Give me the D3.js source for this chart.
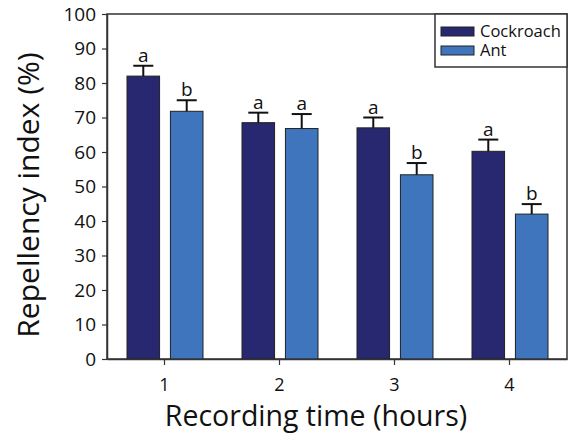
<!DOCTYPE html>
<html>
<head>
<meta charset="utf-8">
<script src="https://cdn.jsdelivr.net/npm/d3@7"></script>
<style>
  body { margin: 0; background: #fff; }
  text { font-family: "Open Sans", "Noto Sans", sans-serif; fill: #111; }
</style>
</head>
<body>
<div id="grafico"></div>
<script>
// Datos
const horas = ["1", "2", "3", "4"];
const series = ["Cockroach", "Ant"];
const cockroach = [82, 68.5, 67, 60.2];
const ant = [71.8, 66.8, 53.4, 42];
const cockroachErr = [3, 2.9, 3, 3.4];
const antErr = [3.2, 4.2, 3.4, 2.9];
const cockroachLetras = ["a", "a", "a", "a"];
const antLetras = ["b", "a", "b", "b"];
const yTicks = [0, 10, 20, 30, 40, 50, 60, 70, 80, 90, 100];
const colores = ["#27286f", "#3e75bd"];

const width = 569;
const height = 447;
const margin = { top: 14, right: 2, bottom: 88, left: 107 };

const svg = d3.select("#grafico")
    .append("svg")
    .attr("width", width)
    .attr("height", height);

// Escalas
const x0 = d3.scaleBand()
    .domain(horas)
    .range([margin.left, width - margin.right]);

const x1 = d3.scaleBand()
    .domain(series)
    .range([20, x0.bandwidth() - 19])
    .paddingInner(0.25);

const y = d3.scaleLinear()
    .domain([0, 100])
    .range([height - margin.bottom, margin.top]);

const color = d3.scaleOrdinal().domain(series).range(colores);

// Tabla para las barras
const datos = [];
horas.forEach((h, i) => {
    datos.push({ hora: h, serie: "Cockroach", valor: cockroach[i], err: cockroachErr[i], letra: cockroachLetras[i] });
    datos.push({ hora: h, serie: "Ant", valor: ant[i], err: antErr[i], letra: antLetras[i] });
});

// Marco del gráfico
svg.append("rect")
    .attr("x", margin.left)
    .attr("y", margin.top)
    .attr("width", width - margin.right - margin.left)
    .attr("height", height - margin.bottom - margin.top)
    .attr("fill", "none")
    .attr("stroke", "#333")
    .attr("stroke-width", 1.5);

// Barras
const g = svg.append("g");

g.selectAll("rect.barra")
    .data(datos)
    .enter()
    .append("rect")
    .attr("class", "barra")
    .attr("x", d => x0(d.hora) + x1(d.serie))
    .attr("y", d => y(d.valor))
    .attr("width", x1.bandwidth())
    .attr("height", d => y(0) - y(d.valor))
    .attr("fill", d => color(d.serie))
    .attr("stroke", "#222")
    .attr("stroke-width", 1);

// Barras de error (solo hacia arriba)
const cx = d => x0(d.hora) + x1(d.serie) + x1.bandwidth() / 2;

g.selectAll("line.err")
    .data(datos)
    .enter()
    .append("line")
    .attr("x1", cx)
    .attr("x2", cx)
    .attr("y1", d => y(d.valor))
    .attr("y2", d => y(d.valor + d.err))
    .attr("stroke", "#111")
    .attr("stroke-width", 2);

g.selectAll("line.cap")
    .data(datos)
    .enter()
    .append("line")
    .attr("x1", d => cx(d) - 10)
    .attr("x2", d => cx(d) + 10)
    .attr("y1", d => y(d.valor + d.err))
    .attr("y2", d => y(d.valor + d.err))
    .attr("stroke", "#111")
    .attr("stroke-width", 2);

// Letras de significancia
g.selectAll("text.letra")
    .data(datos)
    .enter()
    .append("text")
    .attr("x", cx)
    .attr("y", d => y(d.valor + d.err) - 4)
    .attr("text-anchor", "middle")
    .style("font-size", "19px")
    .text(d => d.letra);

// Ejes
const ejeY = svg.append("g")
    .attr("transform", `translate(${margin.left},0)`)
    .call(d3.axisLeft(y).tickValues(yTicks).tickSize(5).tickPadding(6).tickSizeOuter(0));

ejeY.select(".domain").attr("stroke", "#333").attr("stroke-width", 1.5);
ejeY.selectAll(".tick line").attr("stroke", "#333").attr("stroke-width", 1.2);
ejeY.selectAll(".tick text")
    .style("font-size", "19px")
    .style("font-family", "'Open Sans', sans-serif")
    .attr("fill", "#111");

const ejeX = svg.append("g")
    .attr("transform", `translate(0,${y(0)})`)
    .call(d3.axisBottom(x0).tickSize(6).tickPadding(13).tickSizeOuter(0));

ejeX.select(".domain").attr("stroke", "#333").attr("stroke-width", 1.5);
ejeX.selectAll(".tick line").attr("stroke", "#333").attr("stroke-width", 1.2);
ejeX.selectAll(".tick text")
    .style("font-size", "18px")
    .style("font-family", "'Open Sans', sans-serif")
    .attr("fill", "#111");

// Títulos de ejes
svg.append("text")
    .attr("x", 316)
    .attr("y", 426)
    .attr("text-anchor", "middle")
    .style("font-size", "28.5px")
    .text("Recording time (hours)");

svg.append("text")
    .attr("transform", "translate(39,195) rotate(-90)")
    .attr("text-anchor", "middle")
    .style("font-size", "30px")
    .text("Repellency index (%)");

// Leyenda
const leyenda = svg.append("g").attr("transform", "translate(435,14)");

leyenda.append("rect")
    .attr("width", 132)
    .attr("height", 53)
    .attr("fill", "#fff")
    .attr("stroke", "#333")
    .attr("stroke-width", 1.5);

const item = leyenda.selectAll("g.item")
    .data(series)
    .enter()
    .append("g")
    .attr("transform", (d, i) => `translate(6,${13 + i * 19})`);

item.append("rect")
    .attr("width", 33)
    .attr("height", 9)
    .attr("fill", d => color(d))
    .attr("stroke", "#222")
    .attr("stroke-width", 1);

item.append("text")
    .attr("x", 39)
    .attr("y", 10)
    .style("font-size", "16.5px")
    .text(d => d);
</script>
</body>
</html>
